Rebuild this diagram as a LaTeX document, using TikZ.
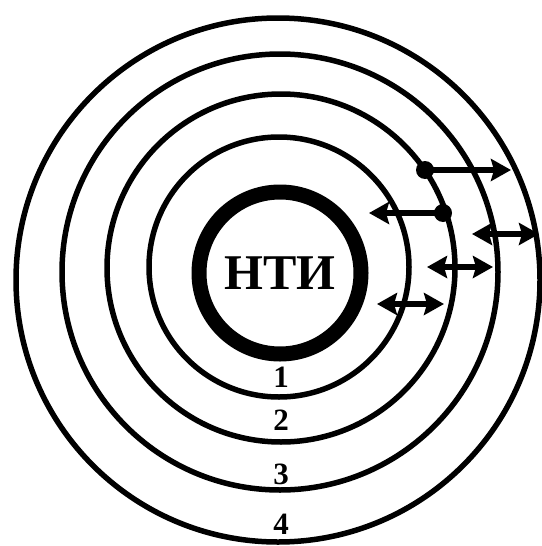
\documentclass[tikz,border=0pt]{standalone}
\usepackage{fontspec}
\setmainfont{Liberation Serif}
\usetikzlibrary{arrows.meta}
\tikzset{
  % Layer ring
  ring/.style={
    circle, draw=black, line width=5.5pt,
    inner sep=0pt, outer sep=0pt
  },
  % Core ring with the label
  core/.style={
    circle, draw=black, line width=15pt,
    minimum size=162pt, inner sep=0pt,
    font=\fontsize{50}{50}\selectfont\bfseries
  },
  % Layer number
  lnum/.style={font=\fontsize{31}{31}\selectfont\bfseries, inner sep=0pt},
  % Junction dot
  jdot/.style={circle, fill=black, minimum size=18pt, inner sep=0pt},
  % Arrows
  arr/.style={-{Stealth[length=20pt,width=22pt,inset=3pt]}, line width=5.5pt},
  darr/.style={{Stealth[length=20pt,width=22pt,inset=3pt]}-{Stealth[length=20pt,width=22pt,inset=3pt]}, line width=5.5pt},
}
\begin{document}
\begin{tikzpicture}[x=1pt, y=-1pt]
  \useasboundingbox (0,0) rectangle (541,546);

  %% Rings
  \node[ring, minimum size=524pt] (ring4) at (278,280) {};
  \node[ring, minimum size=436pt] (ring3) at (280,272) {};
  \node[ring, minimum size=348pt] (ring2) at (281,268) {};
  \node[ring, minimum size=260pt] (ring1) at (279,267) {};
  \node[core] (nti) at (280,273) {НТИ};

  %% Layer numbers
  \node[lnum] (n1) at (281,377) {1};
  \node[lnum] (n2) at (281,420) {2};
  \node[lnum] (n3) at (281,474) {3};
  \node[lnum] (n4) at (281,524) {4};

  %% Junctions on ring 2
  \node[jdot] (d1) at (425,170) {};
  \node[jdot] (d2) at (443,213) {};
  \coordinate (e1) at (511,170);
  \coordinate (e2) at (369,213);
  \draw[arr] (d1.center) -- (e1);
  \draw[arr] (d2.center) -- (e2);

  %% Crossings between layers
  \coordinate (a3) at (472,234);
  \coordinate (b3) at (539,234);
  \coordinate (a2) at (427,267);
  \coordinate (b2) at (493,267);
  \coordinate (a1) at (377,304);
  \coordinate (b1) at (444,304);
  \foreach \k in {1,2,3}
    \draw[darr] (a\k) -- (b\k);

\end{tikzpicture}
\end{document}
